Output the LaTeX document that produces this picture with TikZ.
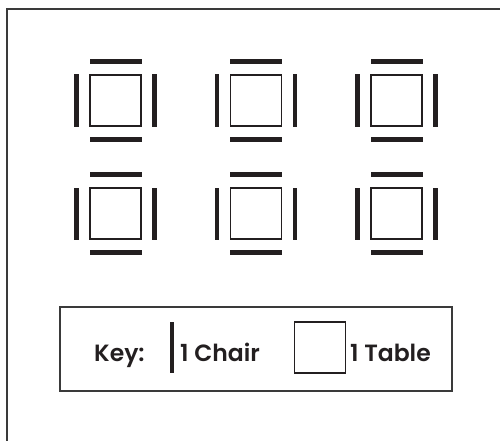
\documentclass[tikz,border=0pt]{standalone}
\usepackage{fontspec}
\setmainfont{Poppins}[BoldFont={Poppins SemiBold}]
\usetikzlibrary{positioning}
\definecolor{chairink}{HTML}{231F20}
\definecolor{frameink}{HTML}{3A3A3A}

\begin{document}
\begin{tikzpicture}[x=1pt, y=-1pt,
    tbl/.style={rectangle, draw=chairink, line width=1.9pt, fill=white, minimum size=51pt, inner sep=0pt},
    chairh/.style={rectangle, fill=chairink, minimum width=52pt, minimum height=4.7pt, inner sep=0pt},
    chairv/.style={rectangle, fill=chairink, minimum width=4.7pt, minimum height=52pt, inner sep=0pt},
    lbl/.style={font=\fontsize{23.5}{26}\selectfont\bfseries, text=chairink, inner sep=0pt, anchor=west}
]
    \useasboundingbox (0,0) rectangle (500,441);
    % room walls
    \draw[frameink, line width=2.6pt] (500,9) -- (7,9) -- (7,441);

    % tables, top row
    \node[tbl] (t1) at (115.5,100.5) {};
    \node[tbl] (t2) at (256,100.5) {};
    \node[tbl] (t3) at (396.5,100.5) {};
    % tables, bottom row
    \node[tbl] (t4) at (115.5,213.5) {};
    \node[tbl] (t5) at (256,213.5) {};
    \node[tbl] (t6) at (396.5,213.5) {};

    % chairs round each table
    \node[chairh, above=10pt of t1] (t1n) {}; \node[chairh, below=10pt of t1] (t1s) {};
    \node[chairv, left=10pt of t1] (t1w) {};  \node[chairv, right=10pt of t1] (t1e) {};
    \node[chairh, above=10pt of t2] (t2n) {}; \node[chairh, below=10pt of t2] (t2s) {};
    \node[chairv, left=10pt of t2] (t2w) {};  \node[chairv, right=10pt of t2] (t2e) {};
    \node[chairh, above=10pt of t3] (t3n) {}; \node[chairh, below=10pt of t3] (t3s) {};
    \node[chairv, left=10pt of t3] (t3w) {};  \node[chairv, right=10pt of t3] (t3e) {};
    \node[chairh, above=10pt of t4] (t4n) {}; \node[chairh, below=10pt of t4] (t4s) {};
    \node[chairv, left=10pt of t4] (t4w) {};  \node[chairv, right=10pt of t4] (t4e) {};
    \node[chairh, above=10pt of t5] (t5n) {}; \node[chairh, below=10pt of t5] (t5s) {};
    \node[chairv, left=10pt of t5] (t5w) {};  \node[chairv, right=10pt of t5] (t5e) {};
    \node[chairh, above=10pt of t6] (t6n) {}; \node[chairh, below=10pt of t6] (t6s) {};
    \node[chairv, left=10pt of t6] (t6w) {};  \node[chairv, right=10pt of t6] (t6e) {};

    % key
    \node[rectangle, draw=frameink, line width=2pt, minimum width=392pt, minimum height=84pt] (key) at (256,349) {};
    \node[lbl, anchor=base west] (keylbl) at (94,361) {Key:};
    \node[chairv, minimum height=51pt] (keychair) at (172,347.5) {};
    \node[lbl, anchor=base west] (chairlbl) at (180,361) {1 Chair};
    \node[tbl, line width=1.7pt] (keytbl) at (320,347.5) {};
    \node[lbl, anchor=base west] (tbllbl) at (350,361) {1 Table};
\end{tikzpicture}
\end{document}
